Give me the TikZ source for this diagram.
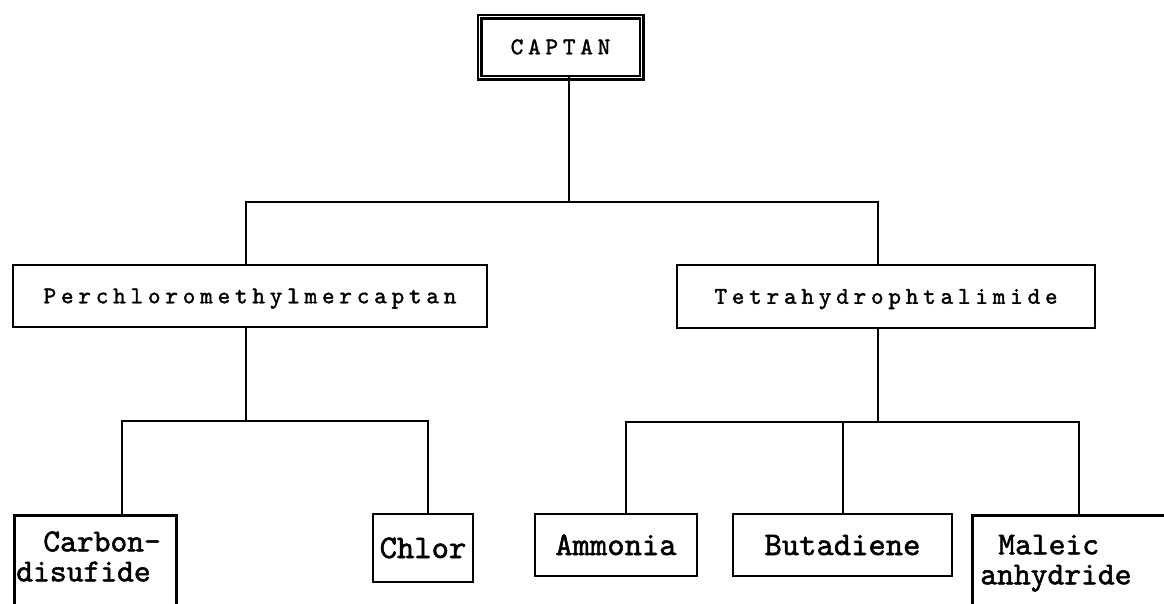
\documentclass[tikz,border=0pt]{standalone}
\usepackage{fontspec}
% typewriter faces: spaced-out upper labels, heavier lower labels
\newfontfamily\upfont[LetterSpace=20,FakeBold=1.6]{lmmono10-regular.otf}
\newfontfamily\lowfont[FakeBold=1.6]{lmmono10-regular.otf}
\usetikzlibrary{calc}

\begin{document}
\begin{tikzpicture}[x=1pt,y=-1pt,
  link/.style={line width=2.8pt,line cap=rect},
  box/.style={draw,rectangle,line width=2.6pt,inner sep=0pt},
  upper/.style={box,font=\upfont\fontsize{24}{26}\selectfont,
    text height=14.5pt,text depth=0pt},
  lower/.style={box,font=\lowfont\fontsize{33}{29}\selectfont,
    text height=20pt,text depth=0pt},
  tall/.style={box,font=\lowfont\fontsize{32}{30}\selectfont,
    anchor=north west,align=left,text height=20pt,text depth=100pt}]

\useasboundingbox (0,0) rectangle (1164,603);
\clip (0,0) rectangle (1164,603);

% top of the tree
\node[upper,double,double distance=1.6pt,line width=2.2pt,
  minimum width=162pt,minimum height=61pt] (captan) at (560.5,47) {CAPTAN};

% the two intermediates
\node[upper,minimum width=474pt,minimum height=62pt] (perch) at (250,296)
  {Perchloromethylmercaptan};
\node[upper,minimum width=418pt,minimum height=63pt] (tetra) at (886,296.5)
  {Tetrahydrophtalimide};

% raw materials
\node[tall,inner xsep=2pt,inner ysep=16pt,text width=158pt] (carbon) at (13,514)
  {\hspace*{27pt}Carbon-\\disufide};
\node[lower,minimum width=100pt,minimum height=68pt] (chlor) at (423,548) {Chlor};
\node[lower,minimum width=162pt,minimum height=62pt] (ammonia) at (616,545) {Ammonia};
\node[lower,minimum width=219pt,minimum height=62pt] (butadiene) at (842.5,545) {Butadiene};
\node[tall,inner xsep=8pt,inner ysep=19pt,text width=200pt] (maleic) at (971,514)
  {\hspace*{18pt}Maleic\\anhydride};

% bus lines
\coordinate (t0) at (569,202);
\coordinate (t1) at (246,202);
\coordinate (t2) at (878,202);
\coordinate (b0) at (246,421);
\coordinate (b1) at (122,421);
\coordinate (b2) at (428,421);
\coordinate (c0) at (878,422);
\coordinate (c1) at (626,422);
\coordinate (c2) at (843,422);
\coordinate (c3) at (1079,422);

\draw[link] (captan.south -| t0) -- (t0);
\draw[link] (perch.north -| t1) -- (t1) -- (t2) -- (tetra.north -| t2);

\draw[link] (perch.south -| b0) -- (b0);
\draw[link] (carbon.north -| b1) -- (b1) -- (b2) -- (chlor.north -| b2);

\draw[link] (tetra.south -| c0) -- (c0);
\draw[link] (ammonia.north -| c1) -- (c1) -- (c3) -- (maleic.north -| c3);
\draw[link] (c2) -- (butadiene.north -| c2);
\end{tikzpicture}
\end{document}
